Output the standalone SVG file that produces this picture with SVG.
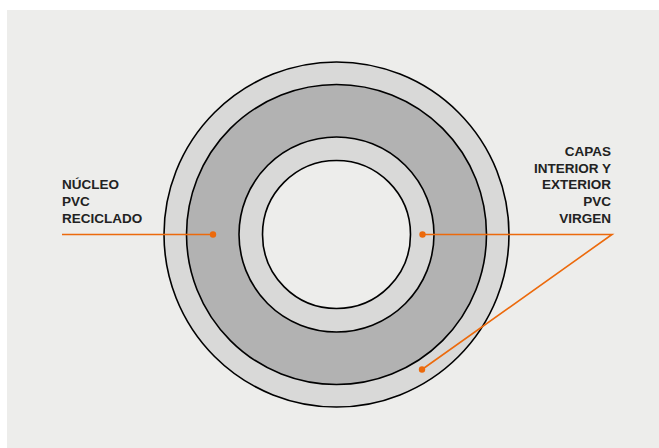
<svg xmlns="http://www.w3.org/2000/svg" width="659" height="448" viewBox="0 0 659 448">
<style>
.ring{stroke:#000;stroke-width:1.6}
.lbl{font-family:"Liberation Sans",Arial,sans-serif;font-weight:bold;font-size:13.5px;fill:#222}
.lead{stroke:#ec6a0c;stroke-width:1.6;fill:none}
.dot{fill:#ec6a0c}
</style>
<rect x="0" y="0" width="659" height="448" fill="#fff"/>
<rect x="7" y="10" width="652" height="438" fill="#ededeb"/>
<g id="pipe">
<circle class="ring" cx="336.5" cy="234.5" r="172.5" fill="#d9d9d8"/>
<circle class="ring" cx="336.5" cy="234.5" r="150" fill="#b2b2b2"/>
<circle class="ring" cx="336.5" cy="234.5" r="97.5" fill="#d9d9d8"/>
<circle class="ring" cx="336.5" cy="234.5" r="74" fill="#ededeb"/>
</g>
<g id="connectors">
<line class="lead" x1="62" y1="234.5" x2="213" y2="234.5"/>
<circle class="dot" cx="213" cy="234.5" r="3.2"/>
<polyline class="lead" points="422.5,234.5 612,234.5 422,369.5"/>
<circle class="dot" cx="422.5" cy="234.5" r="3.2"/>
<circle class="dot" cx="422" cy="369.5" r="3.2"/>
</g>
<g id="label-nucleo">
<text class="lbl" x="62" y="189">NÚCLEO</text>
<text class="lbl" x="62" y="206">PVC</text>
<text class="lbl" x="62" y="223">RECICLADO</text>
</g>
<g id="label-capas" text-anchor="end">
<text class="lbl" x="611" y="156">CAPAS</text>
<text class="lbl" x="611" y="172.5">INTERIOR Y</text>
<text class="lbl" x="611" y="189">EXTERIOR</text>
<text class="lbl" x="611" y="205.5">PVC</text>
<text class="lbl" x="611" y="222.5">VIRGEN</text>
</g>
</svg>
